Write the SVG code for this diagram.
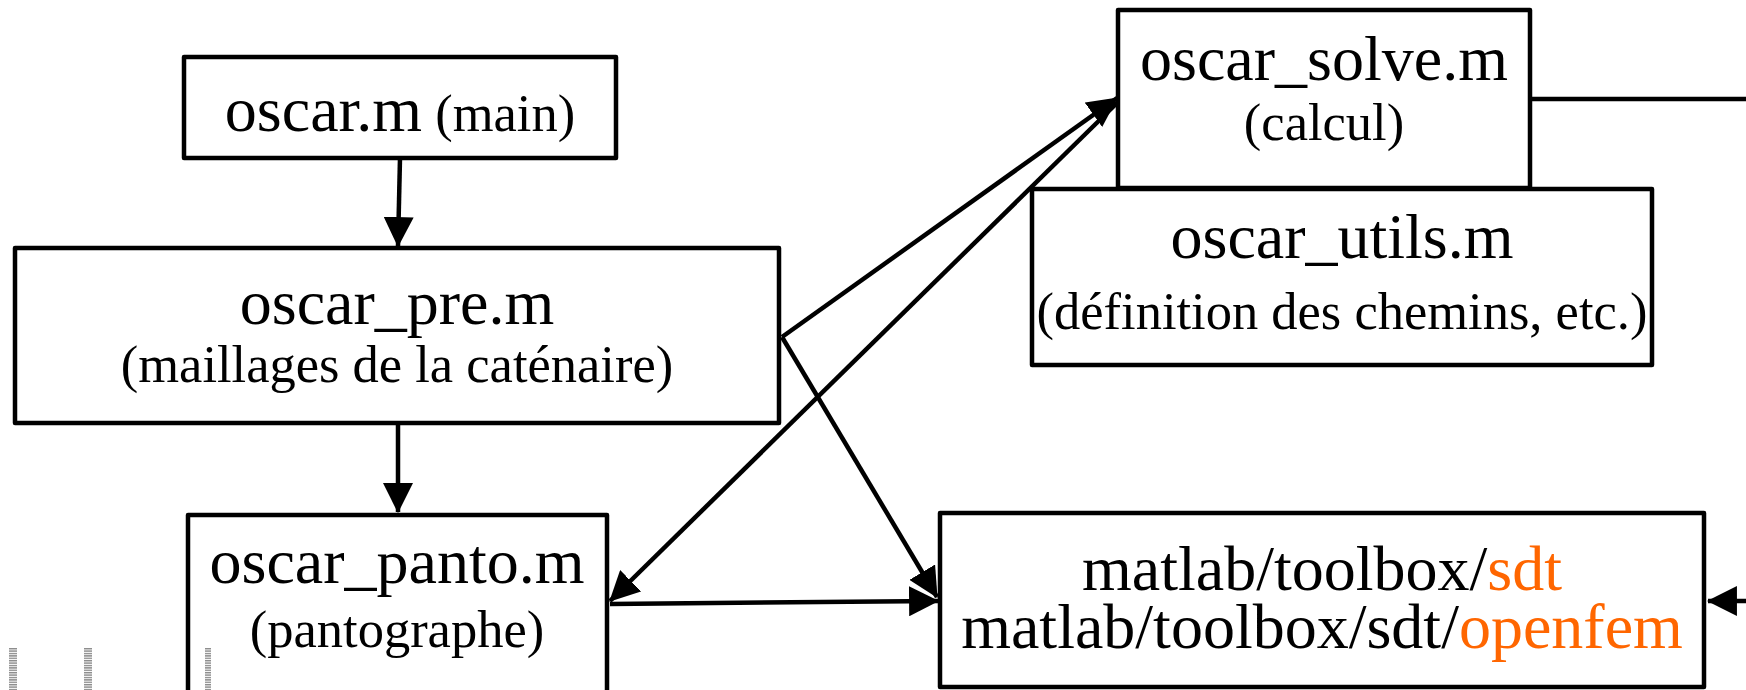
<svg xmlns="http://www.w3.org/2000/svg" width="1746" height="690" viewBox="0 0 1746 690">
<style>
.box{fill:#fff;stroke:#000;stroke-width:4.5;stroke-linejoin:round}
.t{font-family:"Liberation Serif","Times New Roman",serif;fill:#000;text-anchor:middle}
.big{font-size:64px}
.sm{font-size:52.5px}
.or{fill:#ff6600}
.c{fill:none;stroke:#000;stroke-width:4.5}
</style>
<defs>
<marker id="ah" markerUnits="userSpaceOnUse" markerWidth="30" markerHeight="30" viewBox="0 0 28 28" refX="27" refY="14" orient="auto">
<path d="M0,0 L28,14 L0,28 Z" fill="#000"/>
</marker>
<pattern id="stripes" patternUnits="userSpaceOnUse" width="8" height="2.4">
<rect width="8" height="1.4" fill="#8a8a8a"/>
</pattern>
</defs>
<rect width="1746" height="690" fill="#fff"/>
<g id="node-main">
<rect class="box" x="184" y="57" width="432" height="101"/>
<text class="t" x="400" y="131"><tspan class="big">oscar.m</tspan><tspan class="sm"> (main)</tspan></text>
</g>
<g id="node-pre">
<rect class="box" x="15" y="248" width="764" height="175"/>
<text class="t big" x="397" y="324">oscar_pre.m</text>
<text class="t sm" x="397" y="382">(maillages de la caténaire)</text>
</g>
<g id="node-panto">
<rect class="box" x="188" y="515" width="419" height="200"/>
<text class="t big" x="397" y="583">oscar_panto.m</text>
<text class="t sm" x="397" y="647">(pantographe)</text>
</g>
<g id="node-solve">
<rect class="box" x="1118" y="10" width="412" height="178"/>
<text class="t big" x="1324" y="80">oscar_solve.m</text>
<text class="t sm" x="1324" y="140">(calcul)</text>
</g>
<g id="node-utils">
<rect class="box" x="1032" y="189" width="620" height="176"/>
<text class="t big" x="1342" y="258">oscar_utils.m</text>
<text class="t sm" x="1342" y="329">(définition des chemins, etc.)</text>
</g>
<g id="node-matlab">
<rect class="box" x="940" y="513" width="764" height="174"/>
<text class="t big" x="1322" y="590">matlab/toolbox/<tspan class="or">sdt</tspan></text>
<text class="t big" x="1322" y="648">matlab/toolbox/sdt/<tspan class="or">openfem</tspan></text>
</g>
<g id="marks">
<rect x="9" y="648" width="8" height="42" fill="url(#stripes)"/>
<rect x="84" y="648" width="8" height="42" fill="url(#stripes)"/>
<rect x="205" y="648" width="6" height="42" fill="url(#stripes)"/>
</g>
<g id="connectors">
<line class="c" x1="400" y1="158" x2="398" y2="246" marker-end="url(#ah)"/>
<line class="c" x1="398" y1="423" x2="398" y2="512" marker-end="url(#ah)"/>
<line class="c" x1="782" y1="337" x2="1117" y2="98" marker-end="url(#ah)"/>
<line class="c" x1="1117" y1="103" x2="610" y2="601" marker-end="url(#ah)"/>
<line class="c" x1="782" y1="337" x2="937" y2="597" marker-end="url(#ah)"/>
<line class="c" x1="610" y1="604" x2="938" y2="601" marker-end="url(#ah)"/>
<line class="c" x1="1530" y1="99" x2="1746" y2="99"/>
<line class="c" x1="1746" y1="601" x2="1708" y2="601" marker-end="url(#ah)"/>
</g>
</svg>
